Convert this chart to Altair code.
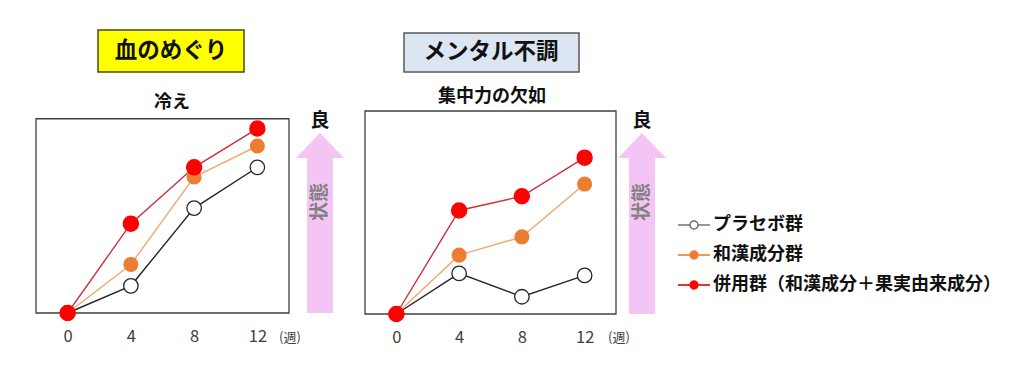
import altair as alt
import pandas as pd

# ---------------- data ----------------
weeks = [0, 4, 8, 12]
series_names = ["プラセボ群", "和漢成分群", "併用群（和漢成分＋果実由来成分）"]

left_placebo = [0, 14, 54, 75]
left_kampo = [0, 25, 70, 86]
left_combo = [0, 46, 75, 95]

right_placebo = [0, 20, 8.5, 19]
right_kampo = [0, 29, 38, 64]
right_combo = [0, 51, 58, 77]

panel_headers = ["血のめぐり", "メンタル不調"]
panel_titles = ["冷え", "集中力の欠如"]
week_unit = "(週)"
good_label = "良"
arrow_label = "状態"

# ---------------- styles ----------------
FONT = "Noto Sans CJK JP"
line_colors = ["#262626", "#F0A870", "#C8323C"]
fill_colors = ["#FFFFFF", "#ED7D31", "#FF0000"]
stroke_colors = ["#262626", "#ED7D31", "#FF0000"]
point_sizes = [210, 190, 230]
legend_line_colors = ["#7F7F7F", "#ED7D31", "#E00000"]
PINK = "#F4C4F4"


def panel(series_vals, header, title, width, height, ydom, frame_top,
          box, header_fill, header_stroke, header_c, title_c, arrow_cx):
    xs = alt.Scale(domain=[-2, 14], nice=False, zero=False)
    ys = alt.Scale(domain=ydom, nice=False, zero=False)
    one = pd.DataFrame({"t": [header], "s": [title], "u": [week_unit],
                        "g": [good_label], "a": [arrow_label],
                        "y0": [0], "y1": [frame_top]})
    base1 = alt.Chart(one)

    frame = base1.mark_rect(filled=False, stroke="#404040", strokeWidth=1.3).encode(
        x=alt.value(0), x2=alt.value(width),
        y=alt.Y("y0:Q", scale=ys, axis=None), y2="y1:Q")

    hbox = base1.mark_rect(fill=header_fill, stroke=header_stroke, strokeWidth=1.5).encode(
        x=alt.value(box[0]), x2=alt.value(box[1]),
        y=alt.value(box[2]), y2=alt.value(box[3]))
    htext = base1.mark_text(font=FONT, fontSize=22.5, fontWeight="bold", color="#111111",
                            baseline="middle").encode(
        text="t:N", x=alt.value(header_c[0]), y=alt.value(header_c[1]))
    ttext = base1.mark_text(font=FONT, fontSize=18, fontWeight="bold", color="#111111",
                            baseline="middle").encode(
        text="s:N", x=alt.value(title_c[0]), y=alt.value(title_c[1]))
    utext = base1.mark_text(font=FONT, fontSize=13, color="#404040",
                            baseline="middle").encode(
        text="u:N", x=alt.value(254), y=alt.value(227))

    shaft = base1.mark_rect(fill=PINK).encode(
        x=alt.value(arrow_cx - 13), x2=alt.value(arrow_cx + 13),
        y=alt.value(46), y2=alt.value(height))
    head = base1.mark_point(shape="M-1,0.52L0,-0.52L1,0.52Z", filled=True,
                            fill=PINK, opacity=1, size=2304, strokeWidth=0).encode(
        x=alt.value(arrow_cx), y=alt.value(34.5))
    good = base1.mark_text(font=FONT, fontSize=19, fontWeight="bold", color="#111111",
                           baseline="middle").encode(
        text="g:N", x=alt.value(arrow_cx), y=alt.value(10))
    state = base1.mark_text(font=FONT, fontSize=19, fontWeight="bold", color="#808080",
                            baseline="middle", angle=270).encode(
        text="a:N", x=alt.value(arrow_cx), y=alt.value(91))

    layers = [frame, hbox, htext, ttext, utext, shaft, head, good, state]

    dfs = [pd.DataFrame({"week": weeks, "v": vals}) for vals in series_vals]
    for i, df in enumerate(dfs):
        layers.append(alt.Chart(df).mark_line(color=line_colors[i], strokeWidth=1.4).encode(
            x=alt.X("week:Q", scale=xs, axis=alt.Axis(
                values=weeks, title=None, grid=False, domain=False, ticks=False,
                labelFont=FONT, labelFontSize=16.5, labelColor="#404040",
                labelPadding=15, labelFlush=False)),
            y=alt.Y("v:Q", scale=ys, axis=None)))
    for i, df in enumerate(dfs):
        layers.append(alt.Chart(df).mark_point(
            filled=True, fill=fill_colors[i], stroke=stroke_colors[i],
            strokeWidth=1.3, size=point_sizes[i], opacity=1).encode(
            x=alt.X("week:Q", scale=xs),
            y=alt.Y("v:Q", scale=ys)))
    return alt.layer(*layers).properties(width=width, height=height)


left = panel([left_placebo, left_kampo, left_combo], panel_headers[0], panel_titles[0],
             253, 202, [0, 104], 100,
             (62, 208, -81, -39), "#FFFF00", "#4A4A10", (135, -60), (136, -8), 284)
right = panel([right_placebo, right_kampo, right_combo], panel_headers[1], panel_titles[1],
              251, 203, [0, 100], 100,
              (39, 214, -78, -39), "#DCE6F2", "#595959", (126, -59), (127, -14), 277)

# ---------------- legend ----------------
leg_df = pd.DataFrame({"name": series_names, "idx": [0, 1, 2]})
leg_base = alt.Chart(leg_df)
ly = alt.Y("idx:Q", scale=alt.Scale(domain=[0, 2], range=[114, 174]), axis=None)
leg_line = leg_base.mark_rule(strokeWidth=1.6).encode(
    x=alt.value(-14), x2=alt.value(18), y=ly,
    color=alt.Color("name:N", scale=alt.Scale(domain=series_names, range=legend_line_colors),
                    legend=None))
leg_pt = leg_base.mark_point(filled=True, size=65, strokeWidth=1.2, opacity=1).encode(
    x=alt.value(2), y=ly,
    fill=alt.Fill("name:N", scale=alt.Scale(domain=series_names, range=fill_colors),
                  legend=None),
    stroke=alt.Stroke("name:N", scale=alt.Scale(domain=series_names,
                                                range=["#595959", "#ED7D31", "#FF0000"]),
                      legend=None))
leg_txt = leg_base.mark_text(font=FONT, fontSize=18, fontWeight="bold", color="#111111",
                             align="left", baseline="middle").encode(
    x=alt.value(21), y=ly, text="name:N")
legend = alt.layer(leg_line, leg_pt, leg_txt).properties(width=310, height=203)

chart = alt.hconcat(left, right, legend, spacing=76, bounds="flush").properties(
    padding={"left": 27, "top": 21, "right": 5, "bottom": 5}
).configure_view(strokeWidth=0).resolve_scale(color="independent")

chart.save("out.html", embed_options={"renderer": "svg", "actions": False})
